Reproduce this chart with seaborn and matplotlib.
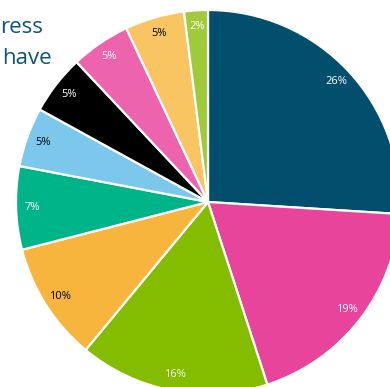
import matplotlib
matplotlib.use("Agg")
import matplotlib.pyplot as plt
import seaborn as sns

values = [26, 19, 16, 10, 7, 5, 5, 5, 5, 2]
labels = ["26%", "19%", "16%", "10%", "7%", "5%", "5%", "5%", "5%", "2%"]
colors = ["#024F6D", "#E8449B", "#84BC00", "#F8B53E", "#00B48A",
          "#7CC8EC", "#000000", "#EE63AE", "#F8C562", "#A1CA3B"]
text_colors = ["white", "white", "white", "black", "white",
               "black", "white", "white", "black", "white"]
title_lines = ["ress", "have"]

sns.set_theme(style="white")
plt.rcParams["font.family"] = ["Open Sans", "DejaVu Sans"]

fig = plt.figure(figsize=(3.90, 3.87), dpi=100)
ax = fig.add_axes([0, 0, 1, 1])
pal = sns.color_palette(colors)

R = 192.0
cx, cy = 208.0, 202.0
W, H = 390.0, 387.0
wedges, texts = ax.pie(values, labels=labels, colors=pal, startangle=90,
                       counterclock=False, radius=1.0, labeldistance=0.915,
                       wedgeprops=dict(edgecolor="white", linewidth=1.6),
                       textprops=dict(fontsize=8))
for t, c in zip(texts, text_colors):
    t.set_color(c)
    t.set_ha("center")
    t.set_va("center")

ax.set_xlim(-cx / R, (W - cx) / R)
ax.set_ylim(-(H - cy) / R, cy / R)
ax.set_aspect("auto")
ax.axis("off")

for i, line in enumerate(title_lines):
    xr = [43, 52][i]
    yb = [33, 64][i]
    ax.text((xr - cx) / R, (cy - yb) / R, line, ha="right", va="baseline",
            fontsize=16, color="#0B5674")

fig.savefig("out.png", dpi=100)
